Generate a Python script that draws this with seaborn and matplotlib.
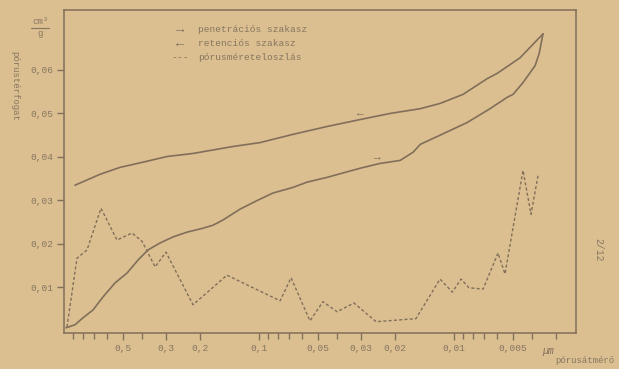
import matplotlib
matplotlib.use("Agg")
import matplotlib.pyplot as plt
from matplotlib.lines import Line2D
import seaborn as sns
import pandas as pd

# Pore diameter (µm) and cumulative pore volume (cm³/g) - penetration branch
pen_d = [0.977, 0.878, 0.799, 0.710, 0.631, 0.548, 0.475, 0.417, 0.371, 0.322,
         0.276, 0.234, 0.194, 0.172, 0.153, 0.125, 0.102, 0.0848, 0.0669, 0.0567,
         0.0448, 0.0303, 0.0240, 0.0189, 0.0162, 0.0149, 0.0118, 0.00858, 0.00654,
         0.00535, 0.00498, 0.00443, 0.00384, 0.00366, 0.00350]
pen_v = [0.0007, 0.0014, 0.0030, 0.0048, 0.0078, 0.0110, 0.0133, 0.0163, 0.0186, 0.0202,
         0.0216, 0.0227, 0.0236, 0.0243, 0.0255, 0.0280, 0.0300, 0.0317, 0.0330, 0.0342,
         0.0353, 0.0374, 0.0385, 0.0392, 0.0411, 0.0429, 0.0450, 0.0479, 0.0511,
         0.0537, 0.0544, 0.0571, 0.0610, 0.0638, 0.0683]

# Retention branch
ret_d = [0.878, 0.654, 0.516, 0.393, 0.296, 0.218, 0.136, 0.0988, 0.0669, 0.0448,
         0.0303, 0.0213, 0.0149, 0.0118, 0.00899, 0.00677, 0.00602, 0.00459, 0.00350]
ret_v = [0.0335, 0.0360, 0.0376, 0.0388, 0.0401, 0.0408, 0.0424, 0.0433, 0.0452, 0.0470,
         0.0486, 0.0500, 0.0511, 0.0523, 0.0544, 0.0580, 0.0592, 0.0628, 0.0683]

# Pore size distribution
dist_d = [0.965, 0.858, 0.762, 0.646, 0.535, 0.448, 0.398, 0.341, 0.300, 0.218,
          0.146, 0.0780, 0.0685, 0.0548, 0.0470, 0.0398, 0.0326, 0.0251, 0.0157,
          0.0118, 0.0102, 0.00921, 0.00838, 0.00710, 0.00595, 0.00548, 0.00443,
          0.00403, 0.00371]
dist_v = [0.0009, 0.0167, 0.0186, 0.0282, 0.0209, 0.0225, 0.0206, 0.0147, 0.0181, 0.0060,
          0.0128, 0.0069, 0.0122, 0.0023, 0.0067, 0.0044, 0.0064, 0.0021, 0.0028,
          0.0119, 0.0089, 0.0119, 0.0099, 0.0096, 0.0179, 0.0131, 0.0369,
          0.0268, 0.0358]

x_major = [0.5, 0.3, 0.2, 0.1, 0.05, 0.03, 0.02, 0.01, 0.005]
x_major_labels = ["0,5", "0,3", "0,2", "0,1", "0,05", "0,03", "0,02", "0,01", "0,005"]
x_minor = [0.9, 0.8, 0.7, 0.6, 0.4, 0.09, 0.08, 0.07, 0.06, 0.04,
           0.009, 0.008, 0.007, 0.006, 0.004, 0.003]
y_ticks = [0.01, 0.02, 0.03, 0.04, 0.05, 0.06]
y_labels = ["0,01", "0,02", "0,03", "0,04", "0,05", "0,06"]

legend_items = ["penetrációs szakasz", "retenciós szakasz", "pórusméreteloszlás"]

paper = "#dbbf91"
ink = "#826f5a"
type_ink = "#86765f"
mono = ["Liberation Mono", "DejaVu Sans Mono"]

sns.set_style("ticks")
plt.rcParams["font.family"] = mono

W, H = 619, 369
fig = plt.figure(figsize=(W / 100, H / 100), dpi=100, facecolor=paper)
ax = fig.add_axes([64 / W, 1 - 333 / H, (576 - 64) / W, (333 - 10) / H])
ax.set_facecolor(paper)

pen = pd.DataFrame({"d": pen_d, "v": pen_v})
ret = pd.DataFrame({"d": ret_d, "v": ret_v})
dist = pd.DataFrame({"d": dist_d, "v": dist_v})

sns.lineplot(data=pen, x="d", y="v", sort=False, estimator=None, ax=ax,
             color=ink, linewidth=1.2)
sns.lineplot(data=ret, x="d", y="v", sort=False, estimator=None, ax=ax,
             color=ink, linewidth=1.2)
sns.lineplot(data=dist, x="d", y="v", sort=False, estimator=None, ax=ax,
             color=ink, linewidth=1.0, linestyle=(0, (2.2, 1.6)))

ax.set_xscale("log")
ax.set_xlim(1.0, 0.00237)
ax.set_ylim(-0.0005, 0.0738)

ax.set_xticks(x_major)
ax.set_xticklabels(x_major_labels)
ax.set_xticks(x_minor, minor=True)
ax.set_yticks(y_ticks)
ax.set_yticklabels(y_labels)
ax.set_xlabel("")
ax.set_ylabel("")

ax.tick_params(axis="both", which="major", direction="out", length=5, width=1,
               color=ink, labelcolor=type_ink, labelsize=6.8)
ax.tick_params(axis="x", which="minor", direction="out", length=4, width=1, color=ink)
ax.tick_params(axis="x", which="major", pad=3)
ax.tick_params(axis="y", which="major", pad=3)
for s in ax.spines.values():
    s.set_visible(True)
    s.set_color(ink)
    s.set_linewidth(1.1)


def px(x, y):
    return x / W, 1 - y / H


# legend drawn as typed lines
marks = ["→", "←", "---"]
sizes = [10, 10, 7]
rows = [29, 43, 57]
for m, fs, label, r in zip(marks, sizes, legend_items, rows):
    fig.text(*px(180, r), m, ha="center", va="center", fontsize=fs,
             color=type_ink, family=mono)
    fig.text(*px(198, r), label, ha="left", va="center", fontsize=6.8,
             color=type_ink, family=mono)

# direction arrows on the branches
fig.text(*px(360, 112), "←", ha="center", va="center", fontsize=8, color=ink, family=mono)
fig.text(*px(377, 156), "→", ha="center", va="center", fontsize=8, color=ink, family=mono)

# unit at the top of the y axis
fig.text(*px(40, 21), "cm³", ha="center", va="center", fontsize=6.5, color=type_ink, family=mono)
fig.add_artist(Line2D([31 / W, 49 / W], [1 - 27.5 / H, 1 - 27.5 / H], color=type_ink, lw=0.8))
fig.text(*px(40, 34), "g", ha="center", va="center", fontsize=6.5, color=type_ink, family=mono)

# vertical axis title
fig.text(*px(15, 86), "pórustérfogat", ha="center", va="center", rotation=270,
         fontsize=6.5, color=type_ink, family=mono)

# x unit and title
fig.text(*px(548, 351), "µm", ha="center", va="center", fontsize=7, color=ink,
         style="italic", family=mono)
fig.text(*px(585, 356), "pórusátmérő", ha="center", va="top", fontsize=6.5,
         color=type_ink, family=mono)

fig.text(*px(598, 250), "2/12", ha="center", va="center", rotation=270,
         fontsize=7, color=type_ink, family=mono)

fig.savefig("out.png", dpi=100, facecolor=paper)
